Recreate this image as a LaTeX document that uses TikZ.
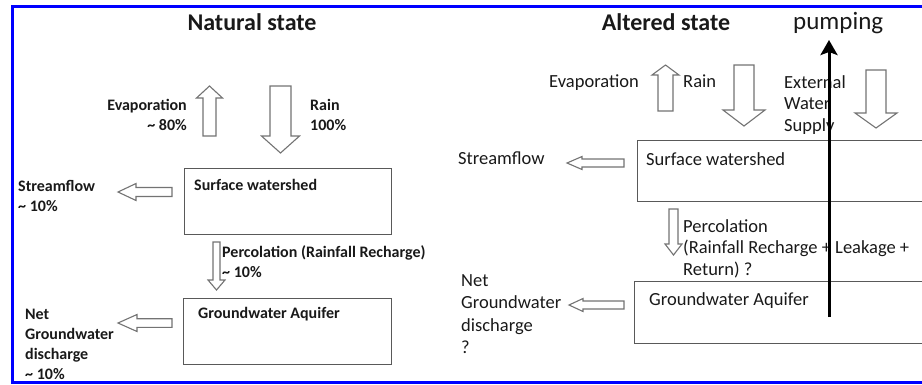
\documentclass[tikz,border=0pt]{standalone}
\usepackage{fontspec}
\setmainfont{Carlito}
\usetikzlibrary{positioning}
\usetikzlibrary{arrows.meta}

% hollow block arrows: vertical {x}{tail}{head base}{tip}{shaft half}{head half}
\newcommand{\vblock}[6]{\draw[barrow] ({#1-#5},#2) -- ({#1-#5},#3) -- ({#1-#6},#3) -- (#1,#4) -- ({#1+#6},#3) -- ({#1+#5},#3) -- ({#1+#5},#2) -- cycle;}
% horizontal {y}{tail}{head base}{tip}{shaft half}{head half}
\newcommand{\hblock}[6]{\draw[barrow] (#2,{#1-#5}) -- (#3,{#1-#5}) -- (#3,{#1-#6}) -- (#4,#1) -- (#3,{#1+#6}) -- (#3,{#1+#5}) -- (#2,{#1+#5}) -- cycle;}

\begin{document}
\begin{tikzpicture}[x=1pt,y=-1pt,
   lab/.style={inner sep=0pt,text=black!90},
   lft/.style={lab,font=\fontsize{16}{20}\selectfont\bfseries},
   rgt/.style={lab,font=\fontsize{18.5}{21.5}\selectfont},
   ttl/.style={lab,font=\fontsize{24}{27}\selectfont\bfseries},
   box/.style={draw=black!65,line width=1.2pt,inner sep=0pt,anchor=north west},
   barrow/.style={draw=black!55,line width=1.1pt,fill=white},
   pumparrow/.style={line width=3pt,-{Stealth[length=15pt,width=17pt,inset=3pt]}}]
   \useasboundingbox (0,0) rectangle (922,384);
   \draw[blue,line width=2.5pt] (930,6.5) -- (12.5,6.5) -- (12.5,382.5) -- (930,382.5);

   % natural state
   \node[ttl,anchor=base] (natural) at (252,30) {Natural state};
   \node[box,minimum width=207pt,minimum height=66pt] (swL) at (184,168) {};
   \node[box,minimum width=208pt,minimum height=66pt] (gwL) at (183,298) {};
   \node[lft,anchor=north west] (swLtxt) at (194,179) {Surface watershed};
   \node[lft,anchor=north west] (gwLtxt) at (198,307) {Groundwater Aquifer};
   \node[lft,anchor=north east,align=right] (evapL) at (187,99) {Evaporation\\\textasciitilde{} 80\%};
   \node[lft,anchor=north west,align=left] (rainL) at (310,99) {Rain\\100\%};
   \node[lft,anchor=north west,align=left] (streamL) at (18,180) {Streamflow\\\textasciitilde{} 10\%};
   \node[lft,anchor=north west,align=left] (percL) at (222,245) {Percolation (Rainfall Recharge)\\\textasciitilde{} 10\%};
   \node[lft,anchor=north west,align=left] (netL) at (25,309) {Net\\Groundwater\\discharge\\\textasciitilde{} 10\%};
   \vblock{209.5}{136}{98}{86}{6.5}{13}
   \vblock{280.5}{86}{136}{153}{10.5}{19}
   \hblock{192}{172}{136}{118}{4.5}{8.5}
   \vblock{216.5}{242}{280}{290}{3.5}{8.5}
   \hblock{323}{172}{137}{118}{4.3}{8.5}

   % altered state
   \node[ttl,anchor=base] (altered) at (666,30) {Altered state};
   \node[lab,font=\fontsize{25}{29}\selectfont,anchor=base west] (pump) at (793,29) {pumping};
   \node[box,minimum width=300pt,minimum height=61pt] (swR) at (637,140) {};
   \node[box,minimum width=300pt,minimum height=62pt] (gwR) at (634,281) {};
   \node[rgt,anchor=north west] (swRtxt) at (646,152) {Surface watershed};
   \node[rgt,anchor=north west] (gwRtxt) at (649,292) {Groundwater Aquifer};
   \node[rgt,anchor=north east] (evapR) at (639,75) {Evaporation};
   \node[rgt,anchor=north west] (rainR) at (683,75) {Rain};
   \node[rgt,anchor=north west,align=left] (extR) at (784,75) {External\\Water\\Supply};
   \node[rgt,anchor=north west] (streamR) at (458,152) {Streamflow};
   \node[rgt,anchor=north west,align=left] (percR) at (683,219) {Percolation\\(Rainfall Recharge + Leakage +\\Return) ?};
   \node[rgt,anchor=north west,align=left,font=\fontsize{18.5}{22.5}\selectfont] (netR) at (461,274) {Net\\Groundwater\\discharge\\?};
   \vblock{665.5}{111}{75}{65}{7.5}{13.5}
   \vblock{744}{65}{110}{126}{10}{21}
   \vblock{876}{70}{113}{128}{10}{21}
   \hblock{163}{624}{582}{567}{4}{6.5}
   \vblock{673.5}{209}{244}{255}{4.5}{8.5}
   \hblock{305}{624}{583}{569}{4}{6.5}

   \coordinate (pumpfoot) at (829,317);
   \draw[pumparrow] (pumpfoot) -- (pumpfoot |- 0,40);
\end{tikzpicture}
\end{document}
